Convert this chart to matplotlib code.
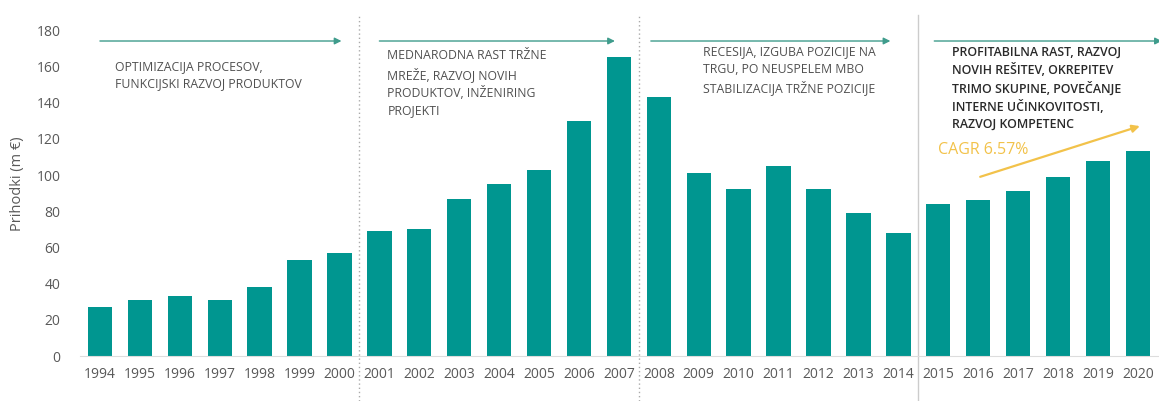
import matplotlib
matplotlib.use("Agg")
import matplotlib.pyplot as plt

years = [str(y) for y in range(1994, 2021)]
revenue = [27, 31, 33, 31, 38, 53, 57, 69, 70, 87, 95, 103, 130, 165,
           143, 101, 92, 105, 92, 79, 68, 84, 86, 91, 99, 108, 113]
y_ticks = [0, 20, 40, 60, 80, 100, 120, 140, 160, 180]
phase_texts = [
    "OPTIMIZACIJA PROCESOV,\nFUNKCIJSKI RAZVOJ PRODUKTOV",
    "MEDNARODNA RAST TRŽNE\nMREŽE, RAZVOJ NOVIH\nPRODUKTOV, INŽENIRING\nPROJEKTI",
    "RECESIJA, IZGUBA POZICIJE NA\nTRGU, PO NEUSPELEM MBO\nSTABILIZACIJA TRŽNE POZICIJE",
    "PROFITABILNA RAST, RAZVOJ\nNOVIH REŠITEV, OKREPITEV\nTRIMO SKUPINE, POVEČANJE\nINTERNE UČINKOVITOSTI,\nRAZVOJ KOMPETENC",
]
cagr_label = "CAGR 6.57%"

plt.rcParams['font.family'] = ['Open Sans', 'DejaVu Sans']

fig = plt.figure(figsize=(11.59, 4.01), dpi=100)
ax = fig.add_axes([0.069, 0.112, 0.930, 0.858])

bar_color = "#009690"
x = list(range(len(years)))
ax.bar(x, revenue, width=0.61, color=bar_color)

ax.set_xlim(-0.5, 26.5)
ax.set_ylim(0, 190)
ax.set_yticks(y_ticks)
ax.set_xticks(x)
ax.set_xticklabels(years)
ax.tick_params(axis='both', length=0, labelsize=10, colors="#595959")
ax.tick_params(axis='x', pad=8)
ax.tick_params(axis='y', pad=14)
for s in ["top", "right", "left"]:
    ax.spines[s].set_visible(False)
ax.spines["bottom"].set_color("#dddddd")
ax.set_ylabel("Prihodki (m €)", fontsize=10.5, color="#595959", labelpad=8)

# phase separators
for sx, ls, c in [(6.5, (0, (1, 2)), "#aaaaaa"), (13.5, (0, (1, 2)), "#aaaaaa"), (20.5, "-", "#cccccc")]:
    ax.axvline(sx, ymin=-0.13, ymax=0.99, color=c, lw=1, ls=ls, clip_on=False)

# phase arrows
arrow_color = "#3f9c8c"
for (x0, x1) in [(0.0, 6.05), (7.0, 12.9), (13.8, 19.8), (20.9, 26.6)]:
    ax.annotate("", xy=(x1, 174), xytext=(x0, 174),
                arrowprops=dict(arrowstyle="-|>", color=arrow_color, lw=1.0,
                                mutation_scale=10, shrinkA=0, shrinkB=0),
                annotation_clip=False)

# phase texts
pos = [(0.38, 163.5), (7.2, 169.5), (15.1, 171.5), (21.35, 171.5)]
for (tx, ty), t, fs, c in zip(pos, phase_texts, [8.8, 8.8, 8.8, 8.9],
                              ["#505050", "#505050", "#505050", "#2a2a2a"]):
    ax.text(tx, ty, t, fontsize=fs, color=c, va="top", ha="left", linespacing=1.4,
            fontweight="normal" if c != "#2a2a2a" else "semibold")

# CAGR
cagr_color = "#f2c24a"
ax.annotate("", xy=(26.05, 127), xytext=(22.05, 99),
            arrowprops=dict(arrowstyle="-|>", color=cagr_color, lw=1.6,
                            mutation_scale=11, shrinkA=0, shrinkB=0))
ax.text(21.0, 114, cagr_label, fontsize=11.5, color=cagr_color, va="center", ha="left")

fig.savefig("out.png", dpi=100)
